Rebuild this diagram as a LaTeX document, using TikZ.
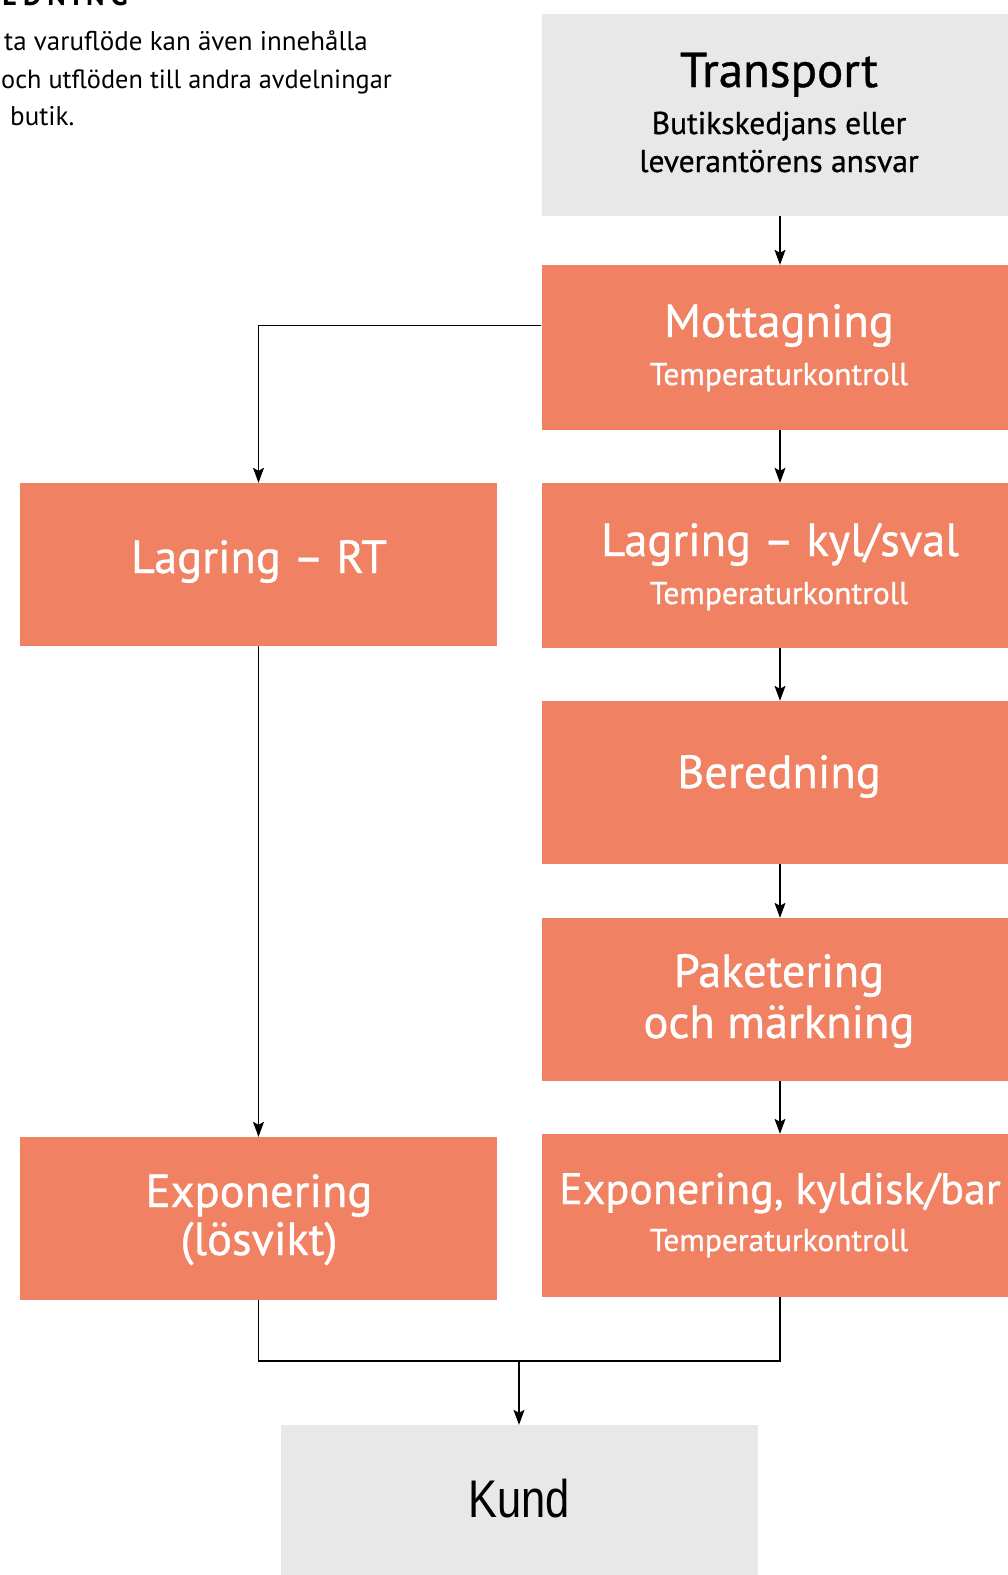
\documentclass[tikz,border=0pt]{standalone}
\usepackage{fontspec}
\setmainfont{PT Sans}
\newfontfamily\medfont[FakeBold=0.8]{PT Sans}
\newfontfamily\kundfont[FakeStretch=0.82]{Liberation Sans}
\usetikzlibrary{arrows.meta}
\definecolor{boxorange}{RGB}{240,130,99}
\definecolor{boxgray}{RGB}{232,232,232}
\tikzset{
  obox/.style={rectangle, fill=boxorange, draw=none, minimum width=477pt, minimum height=163pt, inner sep=0pt},
  gbox/.style={rectangle, fill=boxgray, draw=none, minimum width=477pt, inner sep=0pt},
  ttl/.style={anchor=base, inner sep=0pt, text=white, font=\medfont\fontsize{46.5}{50}\selectfont},
  sub/.style={anchor=base, inner sep=0pt, text=white, font=\medfont\fontsize{31.5}{34}\selectfont},
  bttl/.style={anchor=base, inner sep=0pt, text=black, font=\medfont\fontsize{49}{52}\selectfont},
  bsub/.style={anchor=base, inner sep=0pt, text=black, font=\medfont\fontsize{31.5}{34}\selectfont},
  intro/.style={anchor=base west, inner sep=0pt, text=black, font=\fontsize{27}{30}\selectfont},
  conn/.style={draw=black, line width=1.1pt},
  arr/.style={conn, -{Stealth[length=15pt,width=11pt,inset=3pt]}}
}
\begin{document}
\begin{tikzpicture}[x=1pt,y=-1pt]
\useasboundingbox (0,0) rectangle (1008,1575);
\clip (0,0) rectangle (1008,1575);
\fill[white] (0,0) rectangle (1008,1575);

% intro text (cut at the left and top)
\node[anchor=base east, inner sep=0pt, font=\bfseries\fontsize{28}{30}\selectfont\addfontfeatures{LetterSpace=22}] (head) at (128,5) {BEREDNING};
\node[intro] (l1) at (4,50) {ta varuflöde kan även innehålla};
\node[intro, font=\fontsize{26.3}{30}\selectfont] (l2) at (1,88) {och utflöden till andra avdelningar};
\node[intro] (l3) at (10,125) {butik.};

% boxes
\node[gbox, minimum height=202pt] (transport) at (780,115) {};
\node[obox, minimum height=165pt] (mott) at (780,347.5) {};
\node[obox, minimum height=165pt] (lagkyl) at (780,565.5) {};
\node[obox] (bered) at (780,782.5) {};
\node[obox] (paket) at (780,999.5) {};
\node[obox] (expkyl) at (780,1215.5) {};
\node[obox] (lagrt) at (258.5,564.5) {};
\node[obox] (explos) at (258.5,1218.5) {};
\node[gbox, minimum height=170pt] (kund) at (519,1510) {};

% texts
\node[bttl] (transportT) at (779,87) {Transport};
\node[bsub] (transportS1) at (779,134) {Butikskedjans eller};
\node[bsub] (transportS2) at (779,172) {leverantörens ansvar};

\node[ttl] (mottT) at (779,337) {Mottagning};
\node[sub] (mottS) at (779,385) {Temperaturkontroll};

\node[ttl] (lagkylT) at (780,556) {Lagring – kyl/sval};
\node[sub] (lagkylS) at (779,604) {Temperaturkontroll};

\node[ttl] (lagrtT) at (259,573) {Lagring – RT};

\node[ttl] (beredT) at (779,788) {Beredning};

\node[ttl] (paketT1) at (779,987) {Paketering};
\node[ttl] (paketT2) at (779,1038) {och märkning};

\node[ttl, font=\medfont\fontsize{44}{48}\selectfont] (expkylT) at (780,1204) {Exponering, kyldisk/bar};
\node[sub] (expkylS) at (779,1251) {Temperaturkontroll};

\node[ttl] (explosT1) at (259,1207) {Exponering};
\node[ttl] (explosT2) at (259,1255) {(lösvikt)};

\node[anchor=base, inner sep=0pt, font=\kundfont\fontsize{53}{56}\selectfont] (kundT) at (519,1517) {Kund};

% connectors
\draw[arr] (transport.south) -- (mott.north);
\draw[arr] (mott.south) -- (lagkyl.north);
\draw[arr] (lagkyl.south) -- (bered.north);
\draw[arr] (bered.south) -- (paket.north);
\draw[arr] (paket.south) -- (expkyl.north);
\draw[arr] ([yshift=22pt]mott.west) -| (lagrt.north);
\draw[arr] (lagrt.south) -- (explos.north);
\coordinate (join) at (519,1361);
\draw[conn] (explos.south) |- (join) -| (expkyl.south);
\draw[arr] (join) -- (kund.north);
\end{tikzpicture}
\end{document}
